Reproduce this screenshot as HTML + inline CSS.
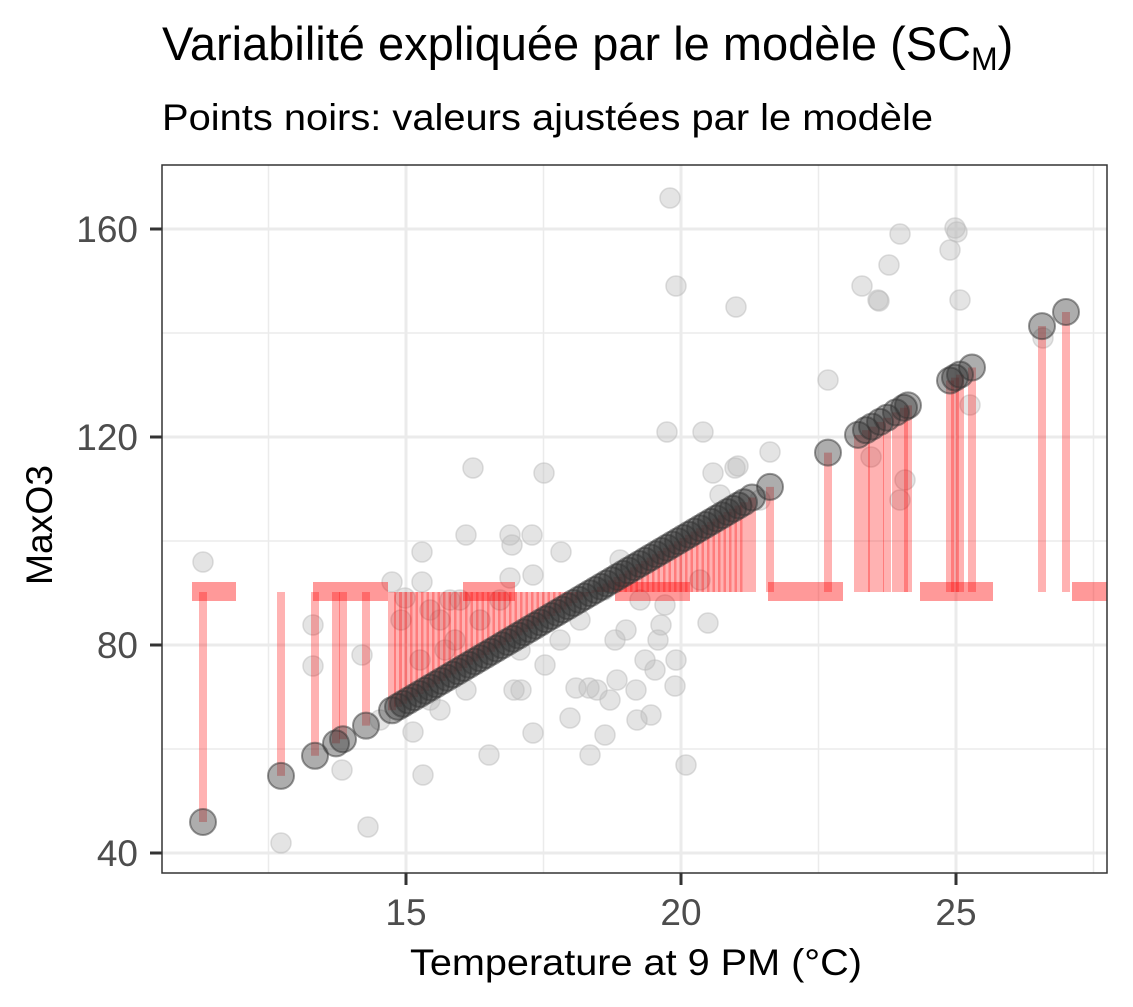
<!DOCTYPE html>
<html><head><meta charset="utf-8"><style>
body{margin:0;background:#fff;}
svg{display:block;font-family:"Liberation Sans",Arial,sans-serif;}
</style></head><body>
<svg id="s" width="1133" height="1007" xmlns="http://www.w3.org/2000/svg">
<rect width="1133" height="1007" fill="#fff"/>
<text x="162" y="60" font-size="47" fill="#000">Variabilité expliquée par le modèle (SC<tspan font-size="32" dy="10">M</tspan><tspan dy="-10">)</tspan></text>
<text x="162" y="130" font-size="37" fill="#000" textLength="771" lengthAdjust="spacingAndGlyphs">Points noirs: valeurs ajustées par le modèle</text>
<g stroke="#ebebeb" stroke-width="1.5">
<line x1="268.5" y1="165" x2="268.5" y2="873"/><line x1="543.5" y1="165" x2="543.5" y2="873"/>
<line x1="818.5" y1="165" x2="818.5" y2="873"/><line x1="1093.5" y1="165" x2="1093.5" y2="873"/>
<line x1="162" y1="333" x2="1107" y2="333"/><line x1="162" y1="541" x2="1107" y2="541"/><line x1="162" y1="749" x2="1107" y2="749"/>
</g>
<g stroke="#ebebeb" stroke-width="3">
<line x1="406" y1="165" x2="406" y2="873"/><line x1="681" y1="165" x2="681" y2="873"/><line x1="956" y1="165" x2="956" y2="873"/>
<line x1="162" y1="229" x2="1107" y2="229"/><line x1="162" y1="437" x2="1107" y2="437"/><line x1="162" y1="645" x2="1107" y2="645"/><line x1="162" y1="853" x2="1107" y2="853"/>
</g>
<g id="obs"></g>
<g id="hb" fill="#ff0000" fill-opacity="0.4">
<rect x="192" y="582" width="44" height="19"/><rect x="313" y="582" width="75" height="19"/>
<rect x="463" y="582" width="52" height="19"/><rect x="615" y="582" width="75" height="19"/>
<rect x="768" y="582" width="75" height="19"/><rect x="920" y="582" width="73" height="19"/>
<rect x="1072" y="582" width="35" height="19"/>
</g>
<g id="vl"></g>
<g id="fit"></g>
<rect x="162" y="165" width="945" height="708" fill="none" stroke="#333" stroke-width="1.5"/>
<g stroke="#333" stroke-width="3">
<line x1="406" y1="873" x2="406" y2="885"/><line x1="681" y1="873" x2="681" y2="885"/><line x1="956" y1="873" x2="956" y2="885"/>
<line x1="150" y1="229" x2="162" y2="229"/><line x1="150" y1="437" x2="162" y2="437"/><line x1="150" y1="645" x2="162" y2="645"/><line x1="150" y1="853" x2="162" y2="853"/>
</g>
<g font-size="37" fill="#4d4d4d" text-anchor="middle">
<text x="406" y="925">15</text><text x="681" y="925">20</text><text x="956" y="925">25</text>
</g>
<g font-size="37" fill="#4d4d4d" text-anchor="end">
<text x="138" y="242">160</text><text x="138" y="450">120</text><text x="138" y="658">80</text><text x="138" y="866">40</text>
</g>
<text x="636" y="975" font-size="37" text-anchor="middle" fill="#000" textLength="452" lengthAdjust="spacingAndGlyphs">Temperature at 9 PM (°C)</text>
<text transform="translate(52,525) rotate(-90)" font-size="37" text-anchor="middle" fill="#000" textLength="120" lengthAdjust="spacingAndGlyphs">MaxO3</text>
</svg>
<script>
var NS="http://www.w3.org/2000/svg";
function el(g,t,a){var e=document.createElementNS(NS,t);for(var k in a)e.setAttribute(k,a[k]);document.getElementById(g).appendChild(e);}
var obs=[[203,562],[281,843],[313,625],[313,666],[342,770],[362,655],[368,827],[392,582],[405,598],[413,732],[422,552],[422,582],[423,775],[430,610],[440,620],[445,650],[455,640],[466,690],[473,468],[466,535],[489,755],[510,578],[510,535],[512,545],[514,690],[521,690],[532,535],[533,575],[533,733],[544,473],[545,665],[561,552],[570,718],[576,688],[589,688],[590,755],[597,690],[604,590],[605,735],[610,700],[615,640],[617,680],[626,630],[636,690],[637,720],[645,660],[651,715],[655,670],[658,640],[661,625],[665,605],[667,432],[675,686],[676,660],[686,765],[670,198],[676,286],[703,432],[708,623],[713,473],[720,495],[735,468],[738,466],[736,307],[770,452],[828,380],[862,286],[879,301],[889,265],[900,234],[950,250],[955,228],[957,232],[878,300],[871,457],[970,405],[1043,338],[401,620],[430,700],[450,600],[480,620],[500,600],[520,650],[560,640],[580,620],[640,600],[700,580],[760,500],[900,500],[905,480],[960,300],[420,660],[440,710],[460,600],[620,560],[380,720]];
obs.forEach(function(p){el("obs","circle",{cx:p[0],cy:p[1],r:10,fill:"#bbb","fill-opacity":0.4,stroke:"#bbb","stroke-opacity":0.5,"stroke-width":1.5});});
var xs=[203,281,315,336,343,366,392,398];
for(var x=403;x<=745;x+=5.5)xs.push(x);
xs=xs.concat([752,770,828,858,866,872,880,887,896,904,908,950,955,960,972,1042,1066]);
function fy(x){return 822-(x-203)*0.591;}
xs.forEach(function(x){var y=fy(x);el("vl","line",{x1:x,y1:592,x2:x,y2:y,stroke:"#ff0000","stroke-opacity":0.3,"stroke-width":8});});
xs.forEach(function(x){el("fit","circle",{cx:x,cy:fy(x),r:13,fill:"#333","fill-opacity":0.4,stroke:"#333","stroke-opacity":0.5,"stroke-width":2});});
</script>
</body></html>
